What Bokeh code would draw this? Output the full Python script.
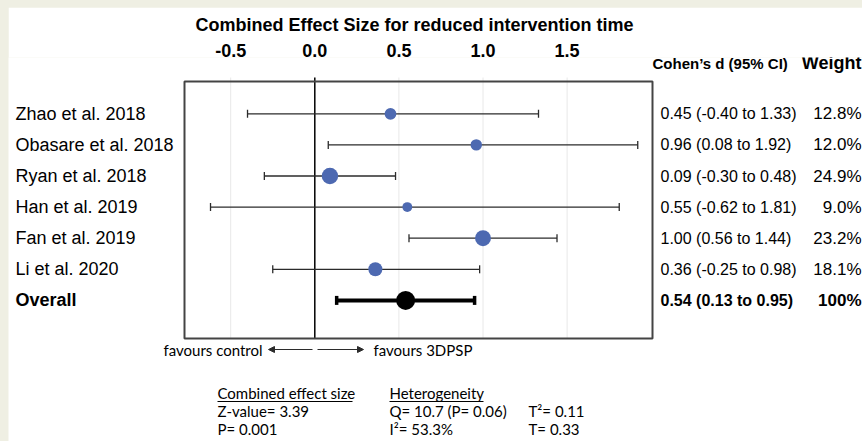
import math
from bokeh.plotting import figure
from bokeh.models import Range1d, FixedTicker, Arrow, NormalHead, Column
from bokeh.embed import file_html
from bokeh.resources import INLINE
from bokeh.core.properties import value

# ---------------- data ----------------
title_text = "Combined Effect Size for reduced intervention time"
studies = ["Zhao et al. 2018", "Obasare et al. 2018", "Ryan et al. 2018",
           "Han et al. 2019", "Fan et al. 2019", "Li et al. 2020"]
cohens_d = [0.45, 0.96, 0.09, 0.55, 1.00, 0.36]
ci_low = [-0.40, 0.08, -0.30, -0.62, 0.56, -0.25]
ci_high = [1.33, 1.92, 0.48, 1.81, 1.44, 0.98]
weights = [12.8, 12.0, 24.9, 9.0, 23.2, 18.1]

overall_label = "Overall"
overall_d = 0.54
overall_low = 0.13
overall_high = 0.95
overall_weight = "100%"

tick_values = [-0.5, 0.0, 0.5, 1.0, 1.5]
tick_labels = ["-0.5", "0.0", "0.5", "1.0", "1.5"]

header_ci = "Cohen\u2019s d (95% CI)"
header_weight = "Weight"
favours_left = "favours control"
favours_right = "favours 3DPSP"
stats_col1 = ["Combined effect size", "Z-value= 3.39", "P= 0.001"]
stats_col2 = ["Heterogeneity", "Q= 10.7 (P= 0.06)", "I\u00b2= 53.3%"]
stats_col3 = ["", "T\u00b2= 0.11", "T= 0.33"]

# ---------------- layout (figure pixels) ----------------
W, H = 854, 434
FRAME_TOP = 50           # frame spans full width, from here to the bottom
PX, X0 = 168.2, 306.3    # px per unit of d, pixel of d = 0
PY, Y0 = 31.1, 292.9     # px per row, pixel of the "Overall" row
BOX = (176, 644, 74, 331)  # left, right, top, bottom of forest box

SANS = "Liberation Sans"
CAL = "Lato"
BLUE = "#4d69b1"
DARK = "#2b2b2b"
BEIGE = "#efefe3"


def dx(px):
    return (px - X0) / PX


def dy(py):
    return (Y0 - py) / PY


bl, br, bt, bb = dx(BOX[0]), dx(BOX[1]), dy(BOX[2]), dy(BOX[3])

p = figure(width=W, height=H, output_backend="svg", toolbar_location=None,
           x_range=Range1d(dx(0), dx(W)), y_range=Range1d(dy(H), dy(FRAME_TOP)),
           x_axis_location="above", y_axis_location=None,
           min_border_left=0, min_border_right=0,
           min_border_top=FRAME_TOP, min_border_bottom=0)
p.margin = (7, 0, 0, 8)
p.background_fill_color = "white"
p.border_fill_color = "white"
p.outline_line_color = None
p.xgrid.visible = False
p.ygrid.visible = False

p.title.text = title_text
p.title.align = "left"
p.title.offset = 187
p.title.vertical_align = "top"
p.title.standoff = 7
p.title.text_font = SANS
p.title.text_font_size = "18px"
p.title.text_font_style = "bold"
p.title.text_color = "black"

ax = p.xaxis[0]
ax.ticker = FixedTicker(ticks=tick_values)
ax.major_label_overrides = {t: l for t, l in zip(tick_values, tick_labels)}
ax.axis_line_color = None
ax.major_tick_line_color = None
ax.minor_tick_line_color = None
ax.major_tick_out = 0
ax.major_tick_in = 0
ax.major_label_standoff = 1
ax.major_label_text_font = SANS
ax.major_label_text_font_size = "18px"
ax.major_label_text_font_style = "bold"
ax.major_label_text_color = "black"

# ---------------- box, grid, zero line ----------------
tick_top = dy(BOX[2] - 4)
grid_ticks = [t for t in tick_values if t != 0]
p.segment(x0=grid_ticks, y0=[bb] * len(grid_ticks), x1=grid_ticks,
          y1=[tick_top] * len(grid_ticks), line_color="#e8e8e8", line_width=1)
p.segment(x0=[0], y0=[bb], x1=[0], y1=[tick_top], line_color="black", line_width=1.5)
p.quad(left=[bl], right=[br], top=[bt], bottom=[bb], fill_color=None,
       line_color="#444444", line_width=2)

# ---------------- marks ----------------
n = len(studies)
ys = [n - i for i in range(n)]
overall_y = 0

p.segment(x0=ci_low, y0=ys, x1=ci_high, y1=ys, line_color=DARK, line_width=1.3)
p.scatter(x=ci_low + ci_high, y=ys + ys, marker="dash", angle=math.pi / 2,
          size=8, line_color=DARK, line_width=1.3)
sizes = [3.3 * math.sqrt(w) for w in weights]
p.scatter(x=cohens_d, y=ys, size=sizes, fill_color=BLUE, line_color=None)

p.segment(x0=[overall_low], y0=[overall_y], x1=[overall_high], y1=[overall_y],
          line_color="black", line_width=4)
p.scatter(x=[overall_low, overall_high], y=[overall_y, overall_y], marker="dash",
          angle=math.pi / 2, size=9, line_color="black", line_width=3.5)
p.scatter(x=[overall_d], y=[overall_y], size=19, fill_color="black", line_color=None)

# ---------------- texts ----------------
ci_txt = [f"{d:.2f} ({lo:.2f} to {hi:.2f})" for d, lo, hi in zip(cohens_d, ci_low, ci_high)]
w_txt = [f"{w:.1f}%" for w in weights]
ov_ci = f"{overall_d:.2f} ({overall_low:.2f} to {overall_high:.2f})"


def txt(xs, yv, texts, font=SANS, size="16px", style="normal", align="left"):
    p.text(x=xs, y=yv, text=texts, text_font=value(font), text_font_size=size,
           text_font_style=style, text_align=align, text_baseline="middle",
           text_color="black")


X_NAME, X_CI, X_W = dx(7), dx(652), dx(853)
txt([X_NAME] * n, ys, studies, size="18px")
txt([X_NAME], [overall_y], [overall_label], size="18px", style="bold")
txt([X_CI] * n, ys, ci_txt, size="16px")
txt([X_CI], [overall_y], [ov_ci], size="16px", style="bold")
txt([X_W] * n, ys, w_txt, size="17px", align="right")
txt([X_W], [overall_y], [overall_weight], size="17px", style="bold", align="right")

txt([dx(644)], [dy(55.5)], [header_ci], size="15px", style="bold")
txt([X_W], [dy(55.5)], [header_weight], size="18px", style="bold", align="right")

txt([dx(254)], [dy(342)], [favours_left], font=CAL, size="15px", align="right")
txt([dx(365)], [dy(342)], [favours_right], font=CAL, size="15px")
for x0, x1 in ((304, 260), (309, 355)):
    p.add_layout(Arrow(x_start=dx(x0), y_start=dy(342), x_end=dx(x1), y_end=dy(342),
                       line_color=DARK, line_width=1,
                       end=NormalHead(size=6, fill_color=DARK, line_color=DARK)))

rows_py = [385, 403, 421]
for col, cx in ((stats_col1, 209), (stats_col2, 381), (stats_col3, 520)):
    items = [(t, dy(r)) for t, r in zip(col, rows_py) if t]
    txt([dx(cx)] * len(items), [v for _, v in items], [t for t, _ in items],
        font=CAL, size="15px")
p.segment(x0=[dx(209), dx(381)], y0=[dy(394)] * 2, x1=[dx(344), dx(475)], y1=[dy(394)] * 2,
          line_color="black", line_width=1)

page = Column(children=[p], styles={"background-color": BEIGE})
open("out.html", "w").write(file_html(page, INLINE))
